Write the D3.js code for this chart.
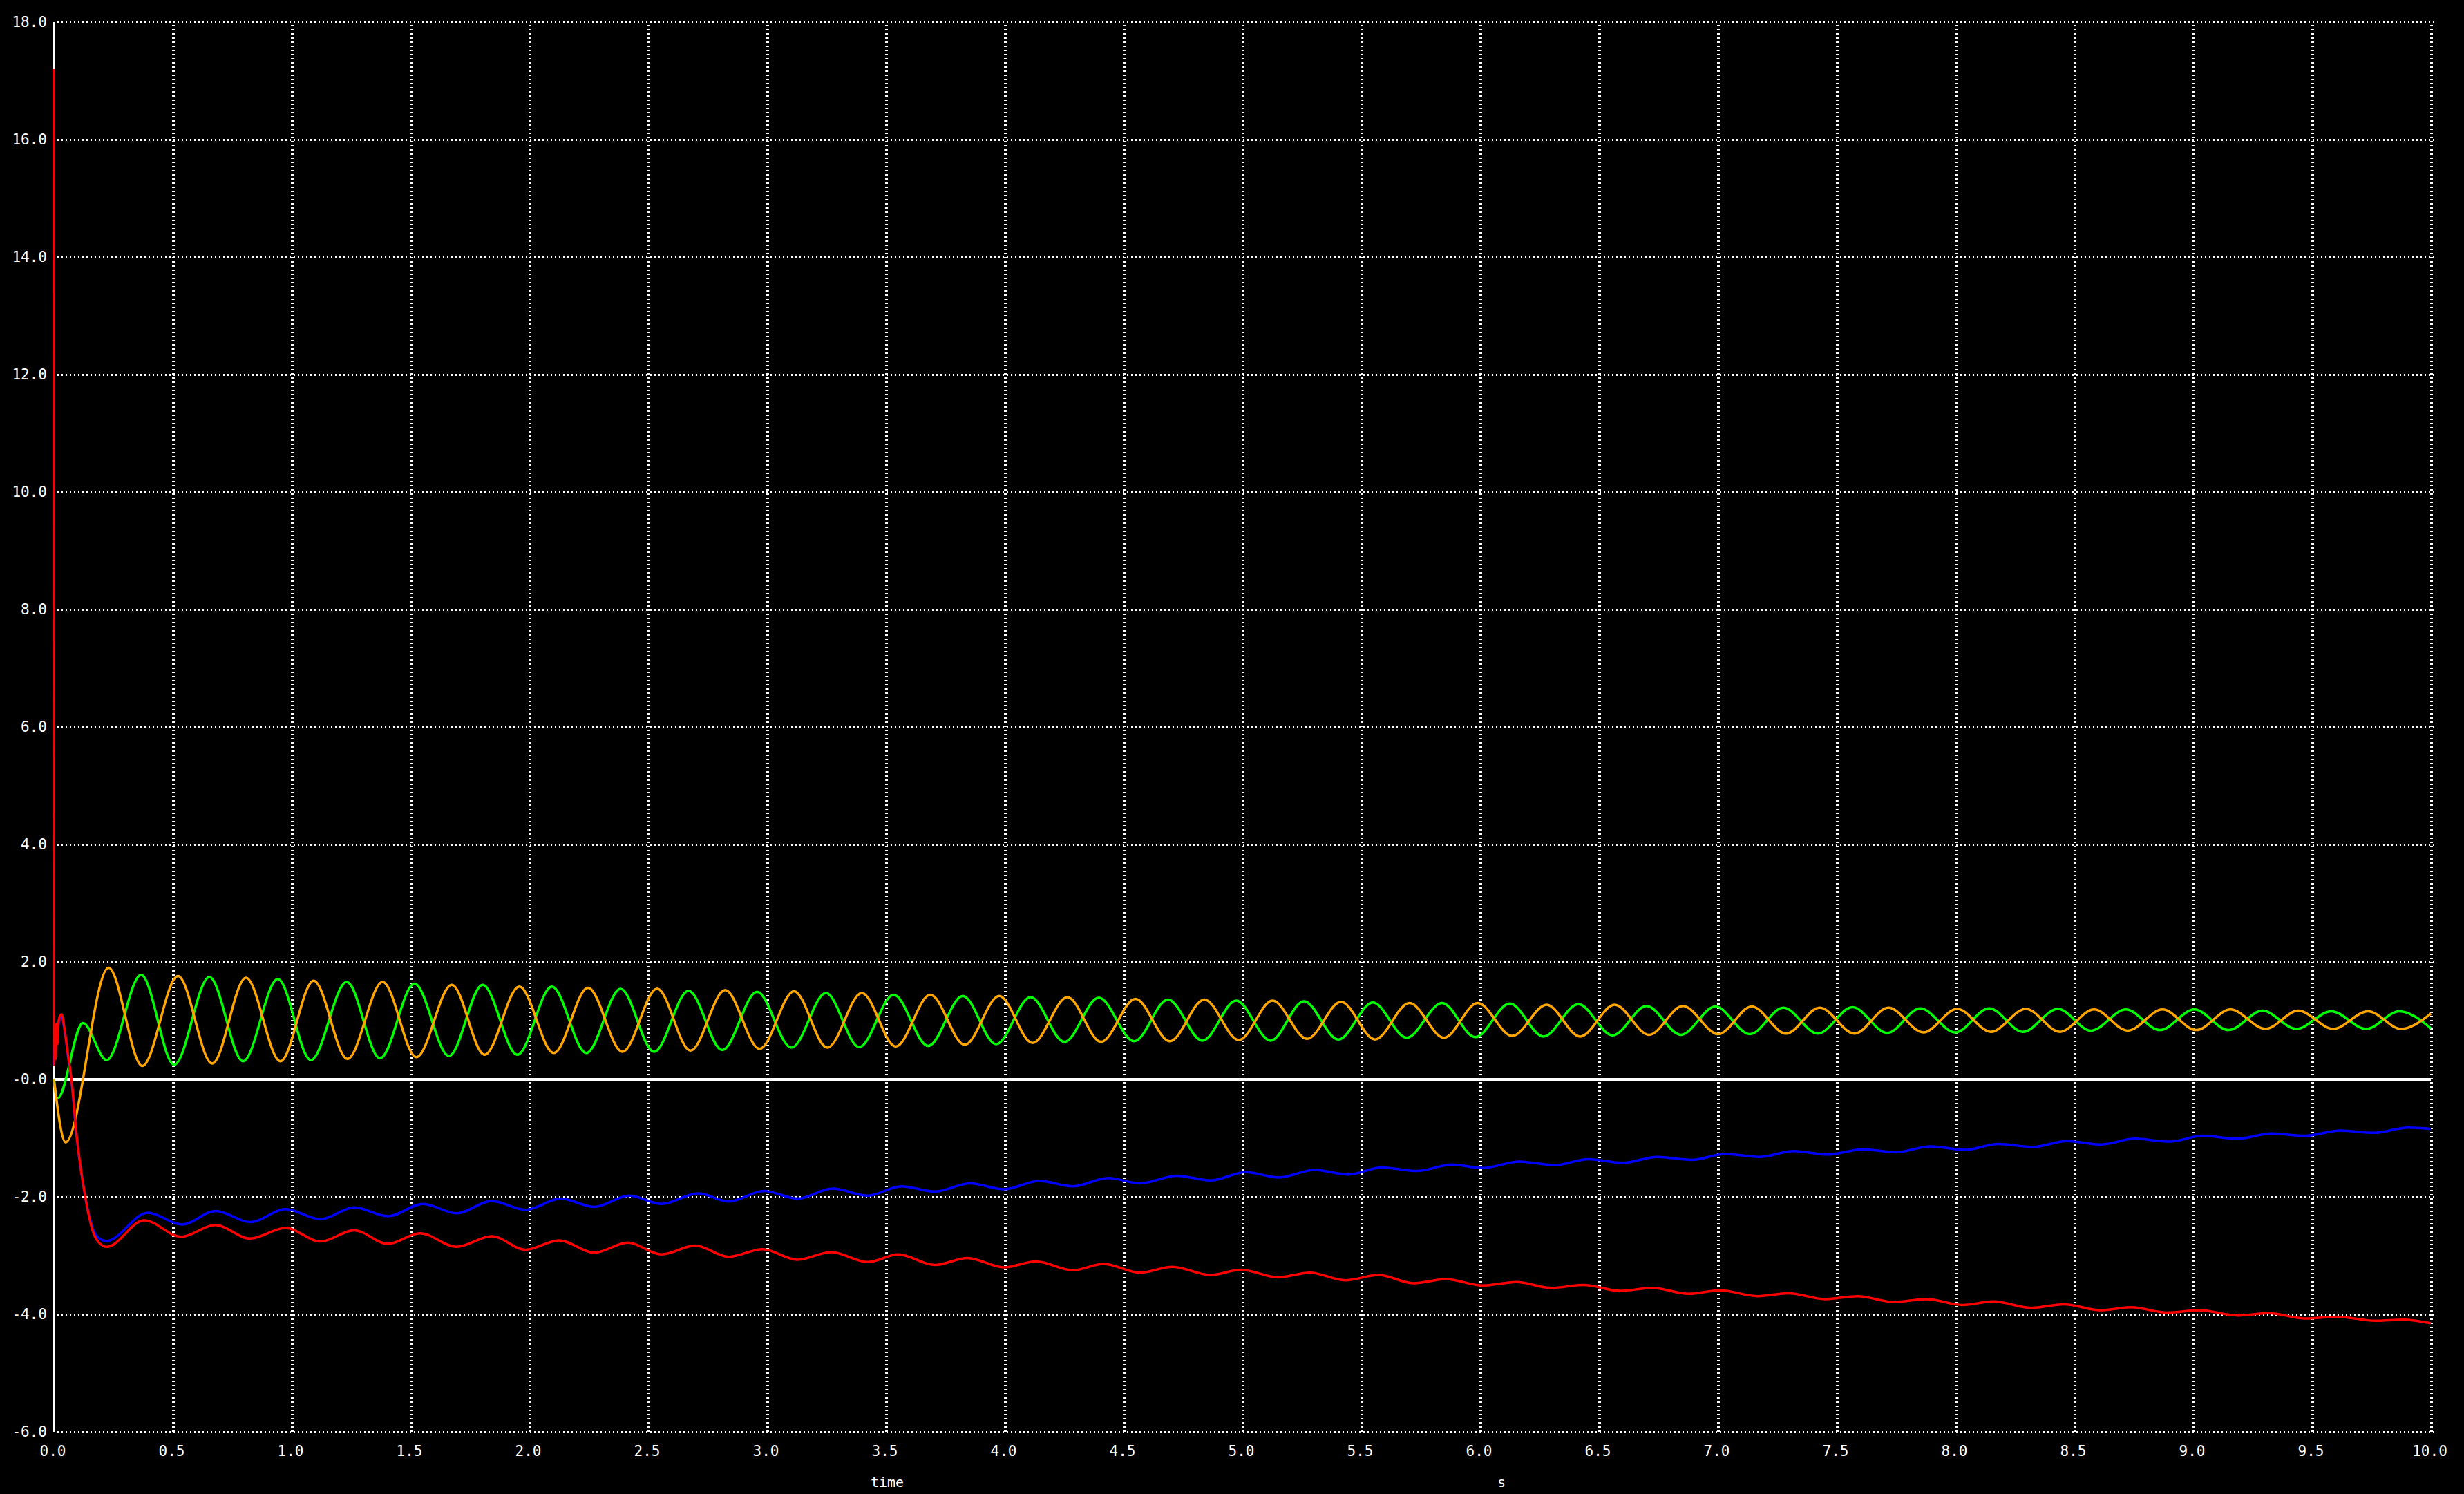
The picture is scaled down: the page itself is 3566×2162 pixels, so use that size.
<!DOCTYPE html>
<html><head><meta charset="utf-8">
<script src="https://cdn.jsdelivr.net/npm/d3@7"></script>
<style>html,body{margin:0;padding:0;background:#000;overflow:hidden}</style>
</head><body><svg id="c" width="3566" height="2162"></svg>
<script>
// ---------- data (time [s], value) ----------
const xTicks = [0,0.5,1,1.5,2,2.5,3,3.5,4,4.5,5,5.5,6,6.5,7,7.5,8,8.5,9,9.5,10];
const xTickLabels = ["0.0","0.5","1.0","1.5","2.0","2.5","3.0","3.5","4.0","4.5","5.0","5.5","6.0","6.5","7.0","7.5","8.0","8.5","9.0","9.5","10.0"];
const yTicks = [-6,-4,-2,0,2,4,6,8,10,12,14,16,18];
const yTickLabels = ["-6.0","-4.0","-2.0","-0.0","2.0","4.0","6.0","8.0","10.0","12.0","14.0","16.0","18.0"];
const xTitle = "time";
const xUnit = "s";

const green = [[0,0.0],[0.0155,-0.32],[0.122,0.96],[0.222,0.33],[0.367,1.78],[0.506,0.25],[0.654,1.74],[0.796,0.31],[0.942,1.71],[1.081,0.33],[1.232,1.66],[1.372,0.36],[1.517,1.63],[1.662,0.40],[1.804,1.61],[1.950,0.42],[2.095,1.58],[2.240,0.45],[2.384,1.54],[2.525,0.47],[2.670,1.51],[2.812,0.50],[2.958,1.49],[3.103,0.54],[3.248,1.47],[3.388,0.55],[3.533,1.44],[3.678,0.57],[3.824,1.42],[3.964,0.60],[4.109,1.40],[4.251,0.64],[4.396,1.39],[4.545,0.65],[4.687,1.36],[4.832,0.66],[4.974,1.34],[5.119,0.66],[5.259,1.33],[5.404,0.68],[5.549,1.31],[5.691,0.71],[5.840,1.30],[5.980,0.72],[6.125,1.29],[6.267,0.73],[6.413,1.28],[6.558,0.75],[6.700,1.25],[6.845,0.76],[6.990,1.24],[7.135,0.77],[7.276,1.22],[7.421,0.78],[7.567,1.23],[7.713,0.79],[7.852,1.21],[7.999,0.80],[8.142,1.21],[8.284,0.81],[8.431,1.20],[8.570,0.83],[8.717,1.19],[8.860,0.84],[9.005,1.19],[9.149,0.84],[9.292,1.17],[9.434,0.86],[9.581,1.16],[9.728,0.86],[9.867,1.16],[10.0,0.87]];

const orange = [[0,0.0],[0.049,-1.07],[0.230,1.90],[0.372,0.23],[0.522,1.76],[0.666,0.27],[0.808,1.73],[0.953,0.31],[1.093,1.68],[1.235,0.35],[1.383,1.66],[1.525,0.38],[1.674,1.61],[1.812,0.42],[1.958,1.58],[2.103,0.45],[2.247,1.56],[2.392,0.47],[2.538,1.545],[2.678,0.49],[2.824,1.52],[2.969,0.52],[3.114,1.50],[3.254,0.54],[3.399,1.47],[3.542,0.56],[3.687,1.44],[3.832,0.59],[3.977,1.42],[4.117,0.62],[4.264,1.40],[4.405,0.64],[4.550,1.37],[4.695,0.65],[4.840,1.36],[4.985,0.67],[5.127,1.34],[5.272,0.69],[5.415,1.32],[5.558,0.68],[5.703,1.30],[5.848,0.71],[5.990,1.30],[6.135,0.74],[6.280,1.27],[6.421,0.73],[6.566,1.27],[6.711,0.76],[6.853,1.25],[7.002,0.77],[7.143,1.24],[7.287,0.78],[7.429,1.22],[7.575,0.78],[7.718,1.22],[7.865,0.80],[8.007,1.20],[8.149,0.81],[8.296,1.20],[8.439,0.81],[8.583,1.19],[8.725,0.83],[8.871,1.19],[9.013,0.84],[9.157,1.19],[9.304,0.86],[9.442,1.17],[9.589,0.86],[9.736,1.16],[9.875,0.86],[10.0,1.12]];

const red = [[0,17.2],[0.001,0.25],[0.004,0.9],[0.007,0.35],[0.011,0.95],[0.015,0.6],[0.02,1.0],[0.032,1.11],[0.045,0.85],[0.06,0.4],[0.074,0.0],[0.096,-0.97],[0.132,-2.0],[0.165,-2.6],[0.195,-2.8],[0.222,-2.85],[0.380,-2.40],[0.536,-2.68],[0.678,-2.48],[0.826,-2.71],[0.974,-2.53],[1.122,-2.76],[1.263,-2.57],[1.405,-2.80],[1.540,-2.62],[1.694,-2.85],[1.842,-2.67],[1.984,-2.90],[2.125,-2.74],[2.273,-2.95],[2.415,-2.78],[2.556,-2.98],[2.698,-2.83],[2.839,-3.02],[2.981,-2.89],[3.128,-3.07],[3.270,-2.94],[3.424,-3.11],[3.552,-2.98],[3.706,-3.16],[3.843,-3.04],[3.997,-3.20],[4.132,-3.10],[4.287,-3.25],[4.415,-3.14],[4.570,-3.29],[4.705,-3.19],[4.866,-3.33],[4.994,-3.24],[5.150,-3.37],[5.284,-3.29],[5.432,-3.42],[5.573,-3.33],[5.720,-3.47],[5.856,-3.40],[6.010,-3.51],[6.152,-3.45],[6.300,-3.55],[6.435,-3.50],[6.590,-3.60],[6.724,-3.55],[6.878,-3.65],[7.008,-3.59],[7.169,-3.69],[7.297,-3.64],[7.451,-3.74],[7.587,-3.69],[7.742,-3.79],[7.876,-3.74],[8.030,-3.84],[8.159,-3.78],[8.320,-3.89],[8.455,-3.83],[8.610,-3.93],[8.738,-3.88],[8.892,-3.97],[9.027,-3.93],[9.189,-4.02],[9.317,-3.98],[9.471,-4.07],[9.606,-4.04],[9.767,-4.11],[9.883,-4.09],[10.0,-4.15]];

const blue = [[0,0.25],[0.004,0.85],[0.011,0.9],[0.02,0.95],[0.032,1.08],[0.045,0.83],[0.06,0.38],[0.074,-0.02],[0.096,-0.99],[0.132,-2.0],[0.165,-2.55],[0.195,-2.72],[0.221,-2.75],[0.395,-2.27],[0.539,-2.47],[0.681,-2.24],[0.826,-2.43],[0.974,-2.21],[1.122,-2.38],[1.263,-2.18],[1.405,-2.33],[1.553,-2.12],[1.694,-2.28],[1.842,-2.07],[1.984,-2.22],[2.132,-2.03],[2.273,-2.17],[2.421,-1.98],[2.556,-2.12],[2.710,-1.94],[2.839,-2.08],[2.987,-1.90],[3.128,-2.03],[3.276,-1.86],[3.424,-1.98],[3.565,-1.82],[3.706,-1.91],[3.854,-1.77],[3.997,-1.87],[4.145,-1.73],[4.287,-1.82],[4.435,-1.68],[4.570,-1.77],[4.724,-1.64],[4.866,-1.72],[5.014,-1.58],[5.155,-1.67],[5.303,-1.54],[5.445,-1.62],[5.586,-1.50],[5.734,-1.56],[5.882,-1.45],[6.010,-1.51],[6.165,-1.40],[6.313,-1.46],[6.455,-1.36],[6.600,-1.42],[6.745,-1.32],[6.890,-1.37],[7.030,-1.27],[7.175,-1.32],[7.320,-1.22],[7.460,-1.28],[7.610,-1.19],[7.750,-1.24],[7.895,-1.14],[8.040,-1.20],[8.180,-1.10],[8.325,-1.15],[8.470,-1.05],[8.610,-1.11],[8.755,-1.01],[8.900,-1.06],[9.040,-0.96],[9.185,-1.01],[9.330,-0.92],[9.470,-0.96],[9.620,-0.87],[9.760,-0.91],[9.905,-0.82],[10.0,-0.84]];

const seriesList = [
  {name:"green", data:green, color:"#00ff00"},
  {name:"orange", data:orange, color:"#ffa500"},
  {name:"blue", data:blue, color:"#0000ff"},
  {name:"red", data:red, color:"#ff0000"}
];

// ---------- layout ----------
const W = 3566, H = 2162;
const X0 = 78, X1 = 3518, Y0 = 32, Y1 = 2072;
const FONT = "'DejaVu Sans Mono', 'Liberation Mono', monospace";

const svg = d3.select("#c");
svg.append("rect").attr("width", W).attr("height", H).attr("fill", "#000");

const x = d3.scaleLinear().domain([0, 10]).range([X0, X1]);
const y = d3.scaleLinear().domain([-6, 18]).range([Y1, Y0]);

// horizontal dotted grid
const gy = svg.append("g").attr("transform", `translate(${X0},0)`)
  .call(d3.axisLeft(y).tickValues(yTicks.filter(v => v !== 0)).tickSize(-(X1 - X0)).tickFormat(""));
gy.select(".domain").remove();
gy.selectAll(".tick line").attr("stroke", "#fff").attr("stroke-width", 3)
  .attr("stroke-dasharray", "2,4").attr("shape-rendering", "crispEdges")
  .attr("transform", "translate(5,0)");

// vertical dotted grid
const gx = svg.append("g").attr("transform", `translate(0,${Y1})`)
  .call(d3.axisBottom(x).tickValues(xTicks.filter(v => v !== 0)).tickSize(-(Y1 - Y0)).tickFormat(""));
gx.select(".domain").remove();
gx.selectAll(".tick line").attr("stroke", "#fff").attr("stroke-width", 4)
  .attr("stroke-dasharray", "2,4").attr("shape-rendering", "crispEdges");

// zero line and y axis line
svg.append("line").attr("x1", x(0)).attr("x2", x(10)).attr("y1", y(0)).attr("y2", y(0))
  .attr("stroke", "#fff").attr("stroke-width", 4).attr("shape-rendering", "crispEdges");
svg.append("line").attr("x1", x(0)).attr("x2", x(0)).attr("y1", y(18)).attr("y2", y(-6))
  .attr("stroke", "#fff").attr("stroke-width", 4).attr("shape-rendering", "crispEdges");

// series
const line = d3.line().x(d => x(d[0])).y(d => y(d[1])).curve(d3.curveMonotoneX);
svg.append("g").selectAll("path").data(seriesList).join("path")
  .attr("d", s => line(s.data))
  .attr("fill", "none")
  .attr("stroke", s => s.color)
  .attr("stroke-width", 3.5)
  .attr("stroke-linejoin", "round");

// tick labels (axes)
const ay = svg.append("g").attr("transform", `translate(${X0},0)`)
  .call(d3.axisLeft(y).tickValues(yTicks).tickSize(0).tickPadding(10)
    .tickFormat((d, i) => yTickLabels[i]));
ay.select(".domain").remove();
ay.selectAll("text").attr("fill", "#fff").style("font-family", FONT).style("font-size", "21px");

const ax = svg.append("g").attr("transform", `translate(-2,${Y1})`)
  .call(d3.axisBottom(x).tickValues(xTicks).tickSize(0).tickPadding(20)
    .tickFormat((d, i) => xTickLabels[i]));
ax.select(".domain").remove();
ax.selectAll("text").attr("fill", "#fff").style("font-family", FONT).style("font-size", "21px");

// axis titles
svg.append("text").attr("x", x(3.506)).attr("y", 2152).attr("text-anchor", "middle")
  .attr("fill", "#fff").style("font-family", FONT).style("font-size", "20px").text(xTitle);
svg.append("text").attr("x", x(6.09)).attr("y", 2152).attr("text-anchor", "middle")
  .attr("fill", "#fff").style("font-family", FONT).style("font-size", "20px").text(xUnit);
</script>
</body></html>
